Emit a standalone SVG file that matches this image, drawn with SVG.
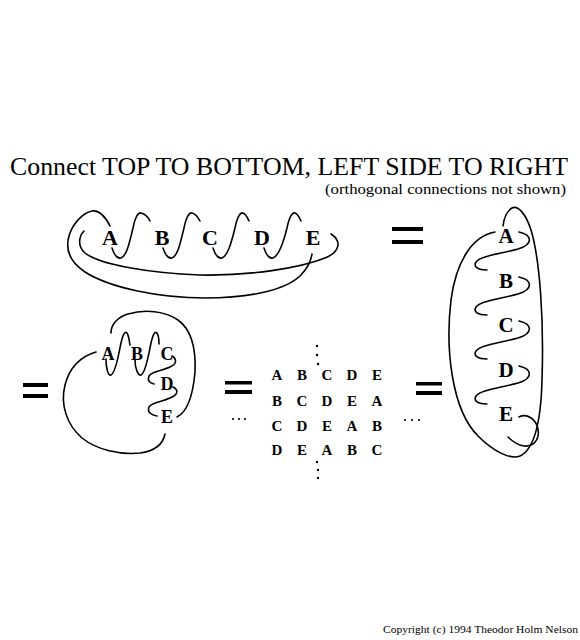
<svg xmlns="http://www.w3.org/2000/svg" width="580" height="640" viewBox="0 0 580 640">
<style>
.t{font-family:"Liberation Serif","Times New Roman",serif;fill:#000}
.b{font-family:"Liberation Serif","Times New Roman",serif;font-weight:bold;fill:#000;text-anchor:middle}
.c{fill:none;stroke:#000;stroke-width:1.6;stroke-linecap:round}
.eq{fill:#000}
.dot{fill:#000}
</style>
<rect width="580" height="640" fill="#fff"/>
<text class="t" x="10" y="175" font-size="25" textLength="558" lengthAdjust="spacingAndGlyphs">Connect TOP TO BOTTOM, LEFT SIDE TO RIGHT</text>
<text class="t" x="325" y="194" font-size="14" textLength="241" lengthAdjust="spacingAndGlyphs">(orthogonal connections not shown)</text>

<g id="top-row">
<text class="b" x="110" y="245" font-size="22">A</text>
<text class="b" x="162" y="245" font-size="22">B</text>
<text class="b" x="210" y="245" font-size="22">C</text>
<text class="b" x="262" y="245" font-size="22">D</text>
<text class="b" x="313" y="245" font-size="22">E</text>
</g>
<g id="right-column">
<text class="b" x="506" y="243" font-size="21">A</text>
<text class="b" x="506" y="288" font-size="21">B</text>
<text class="b" x="506" y="332" font-size="21">C</text>
<text class="b" x="506" y="377" font-size="21">D</text>
<text class="b" x="506" y="421" font-size="21">E</text>
</g>
<g id="left-cluster">
<text class="b" x="108" y="360" font-size="18">A</text>
<text class="b" x="137" y="360" font-size="18">B</text>
<text class="b" x="167" y="360" font-size="18">C</text>
<text class="b" x="167" y="390" font-size="18">D</text>
<text class="b" x="167" y="423" font-size="18">E</text>
</g>
<g id="matrix" font-size="15">
<text class="b" y="380"><tspan x="277">A</tspan><tspan x="302">B</tspan><tspan x="327">C</tspan><tspan x="352">D</tspan><tspan x="377">E</tspan></text>
<text class="b" y="406"><tspan x="277">B</tspan><tspan x="302">C</tspan><tspan x="327">D</tspan><tspan x="352">E</tspan><tspan x="377">A</tspan></text>
<text class="b" y="431"><tspan x="277">C</tspan><tspan x="302">D</tspan><tspan x="327">E</tspan><tspan x="352">A</tspan><tspan x="377">B</tspan></text>
<text class="b" y="455"><tspan x="277">D</tspan><tspan x="302">E</tspan><tspan x="327">A</tspan><tspan x="352">B</tspan><tspan x="377">C</tspan></text>
<circle class="dot" cx="317" cy="346" r="1.2"/><circle class="dot" cx="317" cy="355" r="1.2"/><circle class="dot" cx="318" cy="364" r="1.2"/>
<circle class="dot" cx="317" cy="462" r="1.2"/><circle class="dot" cx="318" cy="470" r="1.2"/><circle class="dot" cx="318" cy="478" r="1.2"/>
<circle class="dot" cx="233" cy="419" r="1.1"/><circle class="dot" cx="239" cy="419" r="1.1"/><circle class="dot" cx="245" cy="419" r="1.1"/>
<circle class="dot" cx="405" cy="420" r="1.1"/><circle class="dot" cx="412" cy="420" r="1.1"/><circle class="dot" cx="419" cy="420" r="1.1"/>
</g>
<g id="equals">
<rect class="eq" x="392" y="227" width="31" height="4"/><rect class="eq" x="392" y="240" width="31" height="4"/>
<rect class="eq" x="23" y="383" width="25" height="4"/><rect class="eq" x="23" y="394" width="25" height="4"/>
<rect class="eq" x="225" y="381" width="27" height="3.5"/><rect class="eq" x="225" y="390" width="27" height="4"/>
<rect class="eq" x="416" y="382" width="26" height="3.5"/><rect class="eq" x="416" y="391" width="26" height="4"/>
</g>
<g id="connectors">
<path class="c" d="M112,248 C114,254 117,259 121,258 C127,256 130,240 133,228 C135,218 138,212 141,213 C145,214 148,217 150,221"/>
<path class="c" d="M163,248 C165,254 168,259 172,258 C178,256 181,240 184,228 C186,218 189,212 192,213 C196,214 198,217 200,221"/>
<path class="c" d="M213,248 C215,254 218,259 222,258 C228,256 232,240 235,228 C237,218 240,212 243,213 C246,214 247,217 249,221"/>
<path class="c" d="M264,248 C266,254 269,259 273,258 C279,256 284,240 287,228 C289,218 292,212 295,213 C298,214 299,217 301,221"/>
<path class="c" d="M110,226 C104,214 98,210 92,211 C82,213 72,225 69,236 C65,250 70,262 85,272 C110,288 160,298 205,298 C250,298 285,290 300,276 C308,268 311,260 312,254"/>
<path class="c" d="M84,231 C79,236 77,246 85,253 C100,265 150,273 200,275 C250,276 300,268 325,258 C340,252 342,241 331,234"/>
<path class="c" d="M519,232 C532,235 534,244 518,249 C500,254 480,256 476,262 C473,267 478,270 487,270"/>
<path class="c" d="M519,277 C532,280 534,289 518,294 C500,299 480,301 476,307 C473,312 478,315 487,315"/>
<path class="c" d="M519,321 C532,324 534,333 518,338 C500,343 480,345 476,351 C473,356 478,359 487,359"/>
<path class="c" d="M519,366 C532,369 534,378 518,383 C500,388 480,390 476,396 C473,401 478,404 487,404"/>
<path class="c" d="M519,417 C527,413 536,419 538,429 C540,440 533,447 524,446 C517,445 512,441 508,437"/>
<path class="c" d="M495,232 C472,236 456,262 451,300 C445,350 452,410 478,436 C493,451 510,460 520,456 C535,449 541,420 542,380 C544,320 540,260 531,230 C526,214 518,205 512,208 C507,211 504,218 503,226"/>
<path class="c" d="M106,359 C106,368 108,376 111,375 C116,373 119,352 121,343 C123,334 125,331 127,333 C129,336 129,340 130,345"/>
<path class="c" d="M135,360 C135,368 138,376 141,375 C146,373 149,352 151,343 C153,334 155,331 157,333 C159,336 159,340 159,344"/>
<path class="c" d="M172,356 C177,359 177,364 170,367 C162,371 152,371 149,376 C147,381 150,383 154,384"/>
<path class="c" d="M173,387 C179,390 178,395 170,398 C162,402 152,402 149,407 C147,412 151,415 157,416"/>
<path class="c" d="M111,333 C111,324 118,317 128,314 C145,309 165,311 178,320 C192,330 196,350 195,372 C193,395 187,412 177,417"/>
<path class="c" d="M96,352 C82,356 70,366 65,385 C60,405 67,425 82,438 C97,450 120,455 140,453 C155,451 163,444 165,434"/>
</g>
<text class="t" x="383" y="633" font-size="10.5" textLength="195" lengthAdjust="spacingAndGlyphs">Copyright (c) 1994 Theodor Holm Nelson</text>
</svg>
